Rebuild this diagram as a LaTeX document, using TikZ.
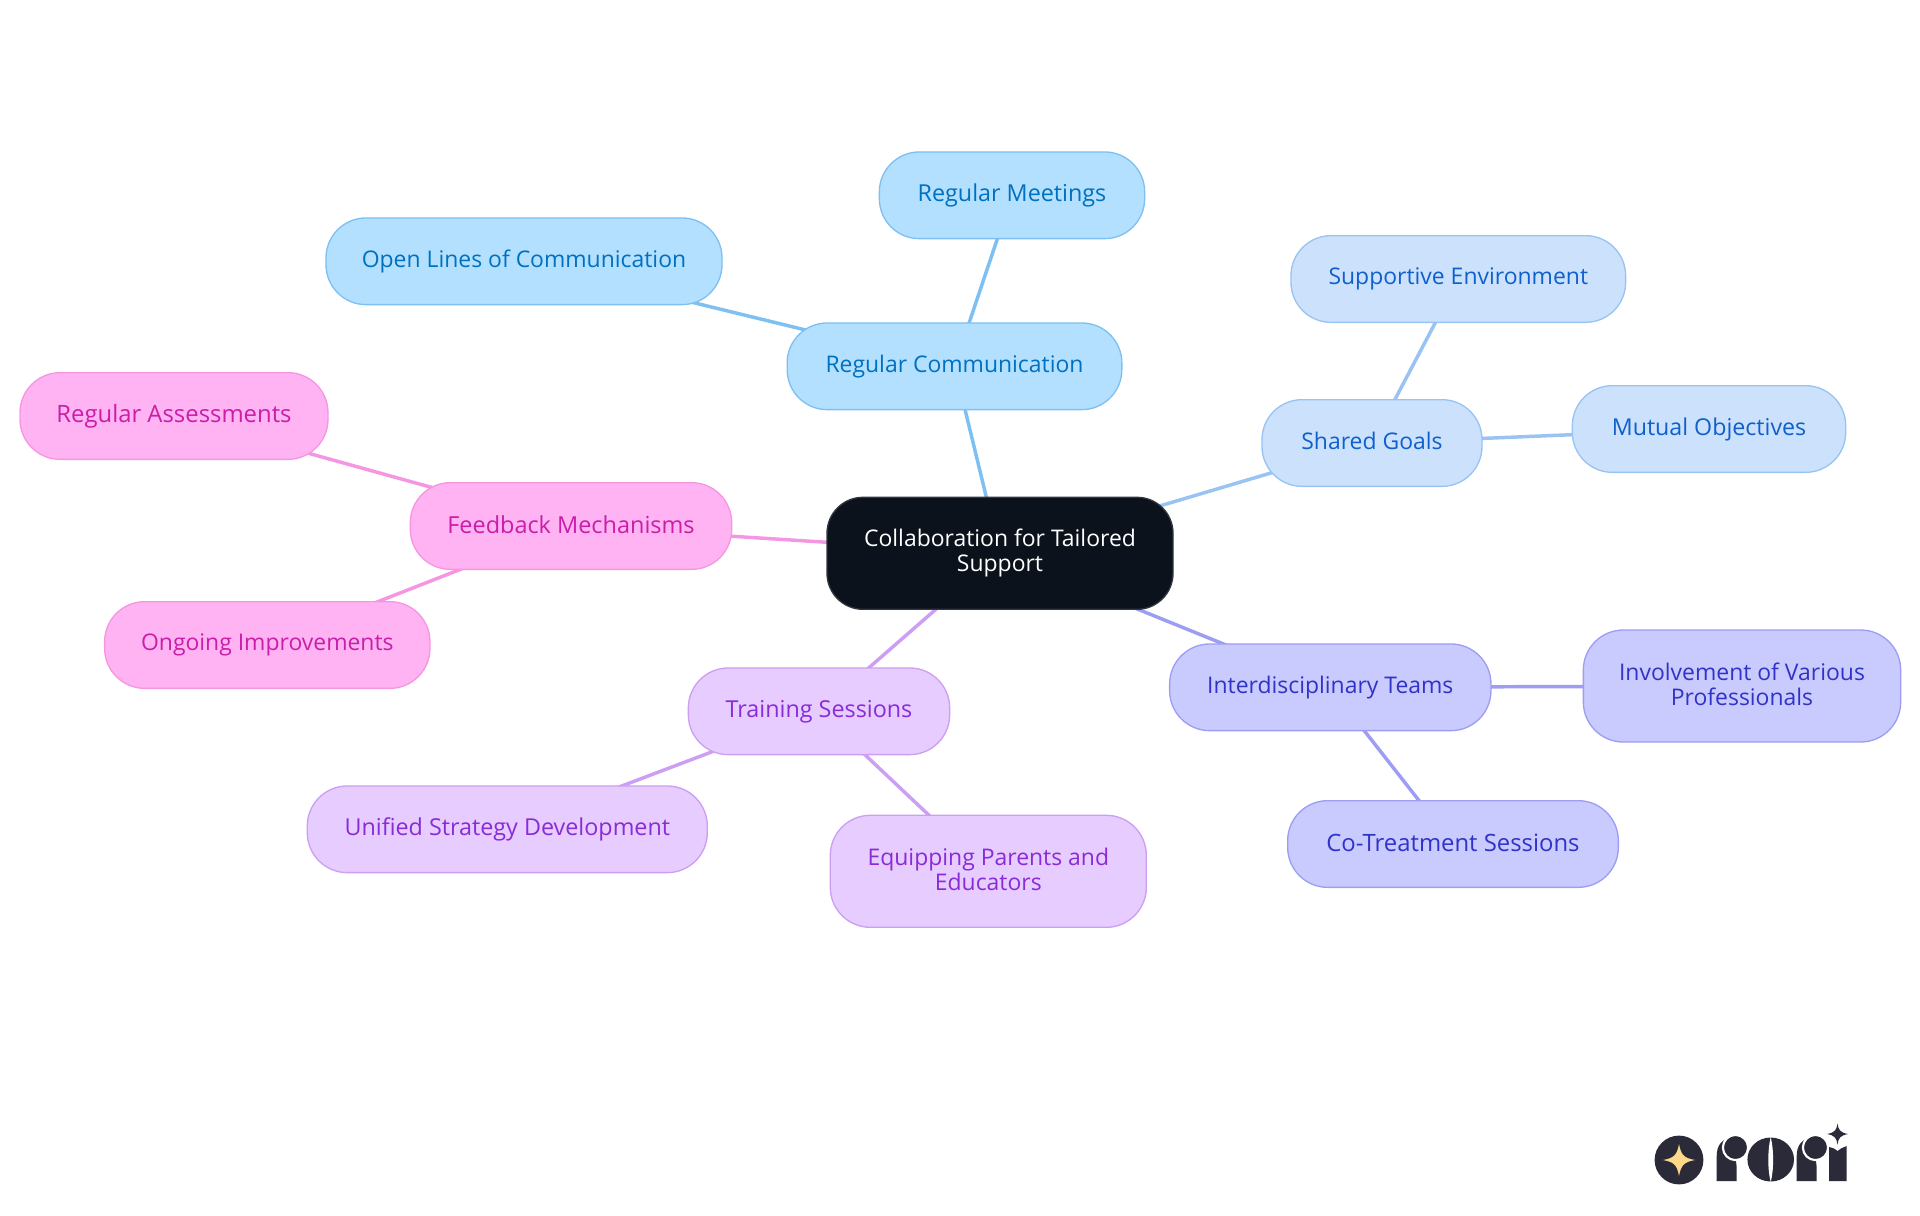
\documentclass[tikz,border=0pt]{standalone}
\usepackage{fontspec}
\setmainfont{Open Sans}
\usetikzlibrary{backgrounds}
\definecolor{rootfill}{HTML}{0B121B}
\definecolor{blueF}{HTML}{B3E0FF}\definecolor{blueL}{HTML}{7DC0F1}\definecolor{blueT}{HTML}{0070C0}
\definecolor{skyF}{HTML}{CCE2FC}\definecolor{skyL}{HTML}{99C3F2}\definecolor{skyT}{HTML}{0F5FCC}
\definecolor{indF}{HTML}{C9CAFE}\definecolor{indL}{HTML}{9D9EF3}\definecolor{indT}{HTML}{3033C8}
\definecolor{purF}{HTML}{E6CCFF}\definecolor{purL}{HTML}{CC9FF2}\definecolor{purT}{HTML}{8A2BD8}
\definecolor{pinF}{HTML}{FFB3F3}\definecolor{pinL}{HTML}{F596E3}\definecolor{pinT}{HTML}{C81EA8}
\definecolor{logoD}{HTML}{2A2A38}\definecolor{logoS}{HTML}{FFD98A}
\newcommand\lstrut{\rule[-2.6pt]{0pt}{11.6pt}}
\tikzset{
 fsz/.style={font=\fontsize{#1}{18.75}\selectfont},
 mm/.style={rounded corners=30pt,align=center,inner sep=0pt,line width=1pt,fsz=17.2},
 rootn/.style={mm,rounded corners=27pt,fill=rootfill,draw=rootfill!85!white,text=white,minimum width=259.5pt,minimum height=84pt},
 blue/.style={mm,fill=blueF,draw=blueL,text=blueT,minimum height=65pt},
 sky/.style={mm,fill=skyF,draw=skyL,text=skyT,minimum height=65pt},
 ind/.style={mm,fill=indF,draw=indL,text=indT,minimum height=65pt},
 pur/.style={mm,fill=purF,draw=purL,text=purT,minimum height=65pt},
 pin/.style={mm,fill=pinF,draw=pinL,text=pinT,minimum height=65pt},
 tall/.style={minimum height=84pt},
 link/.style={line width=2.6pt},
}
\begin{document}
\begin{tikzpicture}[x=0.75pt,y=-0.75pt]
\useasboundingbox (0,0) rectangle (1920,1215);
\node[rootn] (root) at (1000,553.3) {\lstrut Collaboration for Tailored\\\lstrut Support};
\node[blue,minimum width=251pt] (rc) at (954.5,366.3) {\lstrut Regular Communication};
\node[blue,minimum width=199pt,fsz=17.5] (rm) at (1012,195.3) {\lstrut Regular Meetings};
\node[blue,minimum width=297pt] (ol) at (524,261.3) {\lstrut Open Lines of Communication};
\node[sky,minimum width=165pt] (sg) at (1372,443) {\lstrut Shared Goals};
\node[sky,minimum width=251pt] (se) at (1458.3,279) {\lstrut Supportive Environment};
\node[sky,minimum width=205pt,fsz=17.4] (mo) at (1709,429) {\lstrut Mutual Objectives};
\node[pin,minimum width=241pt,fsz=17.6] (fm) at (571,526) {\lstrut Feedback Mechanisms};
\node[pin,minimum width=231pt,fsz=17.9] (ra) at (174,416) {\lstrut Regular Assessments};
\node[pin,minimum width=244pt] (oi) at (267.3,645) {\lstrut Ongoing Improvements};
\node[pur,minimum width=196pt,fsz=17.5] (ts) at (819,711.3) {\lstrut Training Sessions};
\node[pur,minimum width=300pt,fsz=17.5] (us) at (507.3,829.3) {\lstrut Unified Strategy Development};
\node[pur,tall,minimum width=237pt] (ep) at (988.3,871.3) {\lstrut Equipping Parents and\\\lstrut Educators};
\node[ind,minimum width=241pt] (it) at (1330.3,687.3) {\lstrut Interdisciplinary Teams};
\node[ind,tall,minimum width=238pt] (iv) at (1742,686) {\lstrut Involvement of Various\\\lstrut Professionals};
\node[ind,minimum width=248pt,fsz=17.9] (ct) at (1453,844) {\lstrut Co-Treatment Sessions};
\begin{pgfonlayer}{background}
\draw[link,blueL] (root.center)--(rc.center) (rc.center)--(rm.center) (rc.center)--(ol.center);
\draw[link,skyL] (root.center)--(sg.center) (sg.center)--(se.center) (sg.center)--(mo.center);
\draw[link,pinL] (root.center)--(fm.center) (fm.center)--(ra.center) (fm.center)--(oi.center);
\draw[link,purL] (root.center)--(ts.center) (ts.center)--(us.center) (ts.center)--(ep.center);
\draw[link,indL] (root.center)--(it.center) (it.center)--(iv.center) (it.center)--(ct.center);
\end{pgfonlayer}
% logo
\fill[logoD] (1679,1160) circle[radius=24.4];
\fill[logoS] (1679,1144) .. controls (1681,1155) and (1684,1158) .. (1695,1160) .. controls (1684,1162) and (1681,1165) .. (1679,1176) .. controls (1677,1165) and (1674,1162) .. (1663,1160) .. controls (1674,1158) and (1677,1155) .. (1679,1144) -- cycle;
\foreach \dx in {0,80}{
\fill[logoD] (1716.7+\dx,1181) -- (1716.7+\dx,1156) .. controls (1716.7+\dx,1146) and (1721+\dx,1140) .. (1730+\dx,1137.5) -- (1734+\dx,1150) .. controls (1736+\dx,1160) and (1736.7+\dx,1165) .. (1736.7+\dx,1170) -- (1736.7+\dx,1181) -- cycle;
\fill[logoD,draw=white,line width=1.6pt] (1735.5+\dx,1147.5) circle[radius=12.6];
}
\fill[logoD] (1770.7,1159.5) ellipse[x radius=23.3,y radius=22];
\fill[white] (1770.7,1137) .. controls (1767.5,1150) and (1767.5,1170) .. (1770.7,1182) .. controls (1773.9,1170) and (1773.9,1150) .. (1770.7,1137) -- cycle;
\fill[logoD] (1829,1181) -- (1829,1147) .. controls (1833,1148) and (1836,1149) .. (1837.5,1151) .. controls (1839,1149) and (1842,1148) .. (1846.7,1146) -- (1846.7,1181) -- cycle;
\fill[logoD] (1837.5,1123.5) .. controls (1838.5,1130) and (1840,1132.5) .. (1848,1134) .. controls (1840,1135.5) and (1838.5,1138) .. (1837.5,1144.5) .. controls (1836.5,1138) and (1835,1135.5) .. (1827,1134) .. controls (1835,1132.5) and (1836.5,1130) .. (1837.5,1123.5) -- cycle;
\end{tikzpicture}
\end{document}
